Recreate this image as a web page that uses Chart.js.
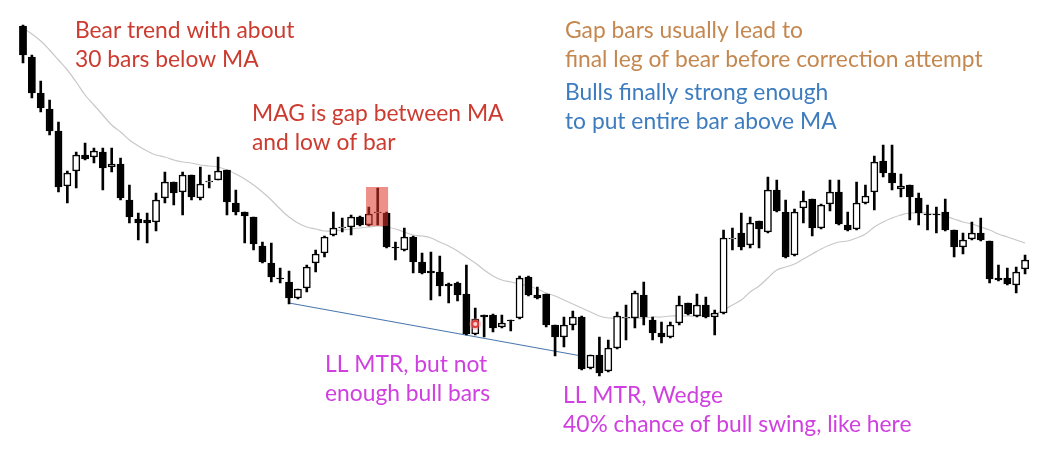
<!DOCTYPE html>
<html>
<head>
<meta charset="utf-8">
<script src="https://cdn.jsdelivr.net/npm/chart.js@4.4.1/dist/chart.umd.min.js"></script>
<style>
  html, body { margin: 0; padding: 0; background: #ffffff; }
  #wrap { position: relative; width: 1042px; height: 454px; }
</style>
</head>
<body>
<div id="wrap"><canvas id="chart"></canvas></div>
<script>
// OHLC bars (price in points)
const opens  = [428,397,361,345,323,268,283,299,297,302,287,290,254,235,234,232,256,272,262,279,256,272,274,284,251,242,237,208,191,176,
                172,156,166,191,201,219,226,227,237,229,241,241,207,204,217,192,183,182,170,171,160,120,139,139,127,134,136,177,159,160,
                129,117,129,137,86,99,83,106,136,136,159,134,121,117,131,151,138,149,137,141,215,221,209,233,222,264,242,199,246,255,
                226,250,262,229,225,251,262,293,281,265,269,256,240,240,242,224,207,215,221,213,176,176,169,185];
const highs  = [429,399,373,354,332,283,302,311,306,306,306,296,269,241,241,261,282,272,282,279,287,279,297,284,264,242,237,212,211,186,
                183,165,189,204,218,242,236,239,238,247,266,242,212,226,218,201,202,198,171,172,189,146,139,140,139,134,178,178,167,160,
                129,137,143,138,99,117,114,142,149,163,172,137,132,132,158,151,160,157,144,224,226,241,237,233,277,274,254,245,263,255,
                250,274,274,242,272,269,298,309,309,280,269,261,249,247,255,224,221,232,236,213,189,186,187,199];
const lows   = [391,356,342,319,262,251,266,294,291,264,282,254,231,214,211,223,251,249,239,254,254,266,274,239,239,211,204,191,172,171,
                150,155,162,182,197,218,222,219,228,228,229,206,194,203,181,180,154,158,151,153,119,119,117,122,126,123,135,158,155,127,
                98,107,124,84,85,78,82,105,114,126,129,114,111,116,129,139,137,136,119,140,204,204,206,206,221,242,196,198,231,218,
                225,243,229,223,224,250,244,277,264,257,234,229,224,221,223,197,200,214,213,171,173,169,161,180];
const closes = [399,361,346,323,267,281,299,295,303,286,290,256,237,231,231,254,272,261,279,257,270,273,283,252,242,238,210,192,177,175,
                156,165,187,200,217,226,227,237,229,240,242,207,206,217,192,181,181,168,168,159,120,135,137,126,131,133,176,159,156,129,
                117,129,137,85,99,81,106,138,137,161,137,121,117,129,149,140,149,137,141,216,216,207,231,225,264,243,197,242,253,226,
                249,262,230,224,251,258,292,281,271,268,257,241,239,239,224,207,214,221,214,175,174,170,182,194];
// 20-period moving average of the closes
const movingAvg = [426,420,413,404,394,384,372,359,349,339,329,322,314,308,303,299,297,294,292,291,289,288,287,284,280,275,269,262,254,245,
                   237,231,227,225,223,223,224,225,226,227,228,227,225,222,219,218,216,212,208,203,197,191,184,178,174,172,170,168,165,161,
                   158,154,150,146,142,138,136,136,136,136,136,137,137,138,138,138,138,139,140,144,149,154,162,168,176,184,187,190,195,200,
                   205,209,212,213,216,220,227,232,236,239,241,241,241,240,238,235,232,230,227,224,220,217,214,211];
// Wedge support line: from the swing low (bar 31) to the final low (bar 64)
const supportLine = { fromBar: 30, fromPrice: 151, toBar: 63, toPrice: 98 };
// Highlighted moving-average gap bar area and the signal bar
const gapZone = { firstBar: 39, lastBar: 41, top: 267, bottom: 228 };
const signalBar = { bar: 51, price: 130 };

const labels = opens.map((_, i) => 'Bar ' + (i + 1));
const wickData = lows.map((l, i) => [l, highs[i]]);
const bodyData = opens.map((o, i) => [o, closes[i]]);
const bodyFill = opens.map((o, i) => closes[i] >= o ? '#ffffff' : '#000000');
const lineData = labels.map((_, i) =>
  i === supportLine.fromBar ? supportLine.fromPrice : (i === supportLine.toBar ? supportLine.toPrice : null));

const notes = [
  { lines: ['Bear trend with about', '30 bars below MA'], x: 75, y: 31, color: '#cc3b2f' },
  { lines: ['MAG is gap between MA', 'and low of bar'], x: 252, y: 114, color: '#cc3b2f' },
  { lines: ['Gap bars usually lead to', 'final leg of bear before correction attempt'], x: 565, y: 31, color: '#c4874f' },
  { lines: ['Bulls finally strong enough', 'to put entire bar above MA'], x: 565, y: 93, color: '#3d7cbf' },
  { lines: ['LL MTR, but not', 'enough bull bars'], x: 325, y: 365, color: '#d040e0' },
  { lines: ['LL MTR, Wedge', '40% chance of bull swing, like here'], x: 563, y: 396, color: '#d040e0' }
];

const annotate = {
  id: 'annotate',
  afterDatasetsDraw(chart) {
    const { ctx, scales: { x, y } } = chart;
    const step = x.getPixelForValue(1) - x.getPixelForValue(0);
    ctx.save();
    // gap highlight
    const left = x.getPixelForValue(gapZone.firstBar) - step * 0.32;
    const right = x.getPixelForValue(gapZone.lastBar) + step * 0.17;
    const top = y.getPixelForValue(gapZone.top);
    const bottom = y.getPixelForValue(gapZone.bottom);
    ctx.fillStyle = 'rgba(222, 52, 42, 0.55)';
    ctx.fillRect(left, top, right - left, bottom - top);
    // signal bar marker
    const sx = x.getPixelForValue(signalBar.bar);
    const sy = y.getPixelForValue(signalBar.price);
    ctx.fillStyle = 'rgba(240, 120, 120, 0.35)';
    ctx.beginPath(); ctx.arc(sx, sy, 6, 0, Math.PI * 2); ctx.fill();
    ctx.strokeStyle = '#e03a3a';
    ctx.lineWidth = 1.8;
    ctx.beginPath(); ctx.arc(sx, sy, 3, 0, Math.PI * 2); ctx.stroke();
    // text notes
    ctx.font = '22.8px Lato, "Open Sans", sans-serif';
    ctx.textBaseline = 'middle';
    ctx.textAlign = 'left';
    notes.forEach(n => {
      ctx.fillStyle = n.color;
      n.lines.forEach((t, k) => ctx.fillText(t, n.x, n.y + k * 29));
    });
    ctx.restore();
  }
};

new Chart(document.getElementById('chart'), {
  type: 'bar',
  data: {
    labels,
    datasets: [
      { type: 'bar', label: 'Body', data: bodyData, order: 0, grouped: false,
        backgroundColor: bodyFill, borderColor: '#000000', borderWidth: 1.5,
        borderSkipped: false, barThickness: 7.2 },
      { type: 'bar', label: 'Range', data: wickData, order: 1, grouped: false,
        backgroundColor: '#000000', borderWidth: 0, barThickness: 2 },
      { type: 'line', label: 'MA', data: movingAvg, order: 2,
        borderColor: '#c8c8c8', borderWidth: 1.2, pointRadius: 0, tension: 0.4, fill: false },
      { type: 'line', label: 'Wedge line', data: lineData, order: 3, spanGaps: true,
        borderColor: '#4a78ae', borderWidth: 1.2, pointRadius: 0, fill: false }
    ]
  },
  options: {
    responsive: true,
    maintainAspectRatio: false,
    animation: false,
    layout: { padding: { left: 18.57, right: 12.5, top: 0, bottom: 0 } },
    plugins: { legend: { display: false }, tooltip: { enabled: false } },
    scales: {
      x: { type: 'category', display: false, offset: true, grid: { display: false } },
      y: { type: 'linear', display: false, min: 0, max: 454, grid: { display: false } }
    }
  },
  plugins: [annotate]
});
</script>
</body>
</html>
